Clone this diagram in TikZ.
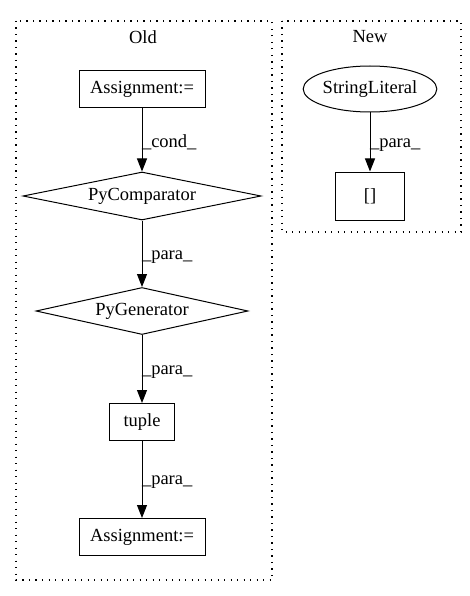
\documentclass[tikz,border=0pt]{standalone}
\usepackage{fontspec}
\setmainfont{Liberation Serif}
\usetikzlibrary{shapes.geometric,arrows.meta}
\begin{document}
\begin{tikzpicture}[x=1pt,y=-1pt,line width=1pt,
  every node/.style={font=\fontsize{18.5}{21}\selectfont},
  box/.style={draw,rectangle,minimum height=37pt,inner sep=0pt},
  dia/.style={draw,diamond,aspect=4.9,inner sep=0pt},
  ell/.style={draw,ellipse,minimum width=127pt,minimum height=46pt,inner sep=0pt},
  cluster/.style={draw,line width=1.2pt,dash pattern=on 1.2pt off 5.3pt},
  conn/.style={-{Triangle[length=13pt,width=10pt]}},
  lab/.style={font=\fontsize{18.5}{21}\selectfont,anchor=west,inner sep=0pt}]
\useasboundingbox (0,0) rectangle (469,596);
\draw[cluster] (16,21) rectangle (272,580);
\draw[cluster] (282,21) rectangle (461,232);
\node (oldlab) at (143,37) {Old};
\node (newlab) at (370,37) {New};
\node[box,minimum width=126pt] (a1) at (142,89) {Assignment:=};
\node[dia,minimum width=238pt,minimum height=48pt] (pc) at (142,196) {PyComparator};
\node[dia,minimum width=212pt,minimum height=47pt] (pg) at (142,311) {PyGenerator};
\node[box,minimum width=65pt] (tu) at (142,422) {tuple};
\node[box,minimum width=126pt] (a2) at (142,537) {Assignment:=};
\node[ell] (sl) at (370,89) {StringLiteral};
\node[box,minimum width=69pt,minimum height=48pt] (br) at (370,196) {[]};
\draw[conn] (a1) -- (pc) node[lab,midway,xshift=-0.5pt,yshift=-3pt] {\_cond\_};
\draw[conn] (pc) -- (pg) node[lab,midway,xshift=-0.5pt,yshift=-3pt] {\_para\_};
\draw[conn] (pg) -- (tu) node[lab,midway,xshift=-0.5pt,yshift=-3pt] {\_para\_};
\draw[conn] (tu) -- (a2) node[lab,midway,xshift=-0.5pt,yshift=-3pt] {\_para\_};
\draw[conn] (sl) -- (br) node[lab,midway,xshift=-0.5pt,yshift=-3pt] {\_para\_};
\end{tikzpicture}
\end{document}
